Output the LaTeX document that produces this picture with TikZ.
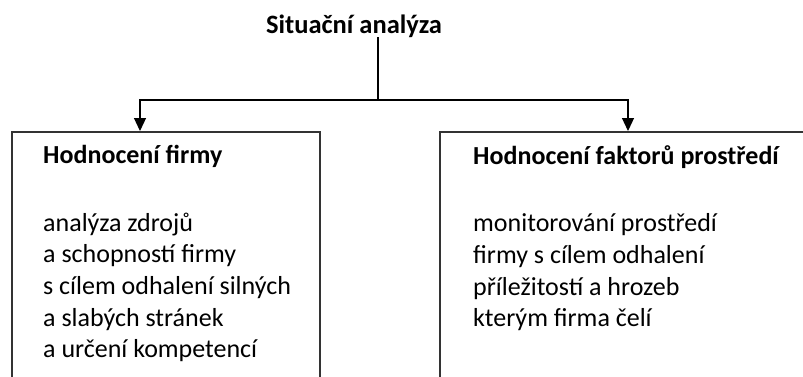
\documentclass[tikz,border=0pt]{standalone}
\usepackage{fontspec}
\setmainfont{Carlito}
\usetikzlibrary{arrows.meta,positioning}
\tikzset{
  frame/.style={draw=black!80,line width=1.5pt,minimum height=300pt,anchor=north west},
  boxtext/.style={inner sep=0pt,align=left,anchor=north west,
    font=\fontsize{26}{31.7}\selectfont},
  arr/.style={line width=1.2pt,-{Triangle[length=13pt,width=12pt]}}
}
\begin{document}
\begin{tikzpicture}[x=1pt,y=-1pt]
  \useasboundingbox (0,0) rectangle (803,376);
  \clip (0,0) rectangle (803,376);
  \node[inner sep=0pt,anchor=base,font=\fontsize{26.5}{30}\selectfont\bfseries] (title) at (354,33) {Situační analýza};
  \node[frame,minimum width=308pt] (lbox) at (11,131) {};
  \node[frame,minimum width=400pt] (rbox) at (439,131) {};
  \node[boxtext,below right=14pt and 32pt of lbox.north west] (ltext)
    {\textbf{Hodnocení firmy}\\[36pt]
     analýza zdrojů\\
     a schopností firmy\\
     s cílem odhalení silných\\
     a slabých stránek\\
     a určení kompetencí};
  \node[boxtext,below right=14pt and 34pt of rbox.north west] (rtext)
    {\textbf{Hodnocení faktorů prostředí}\\[36pt]
     monitorování prostředí\\
     firmy s cílem odhalení\\
     příležitostí a hrozeb\\
     kterým firma čelí};
  \coordinate (split) at (378,100);
  \draw[line width=1.2pt] (title.south -| split) -- (split);
  \draw[arr] (split) -| ([xshift=129pt]lbox.north west);
  \draw[arr] (split) -| ([xshift=189pt]rbox.north west);
\end{tikzpicture}
\end{document}
